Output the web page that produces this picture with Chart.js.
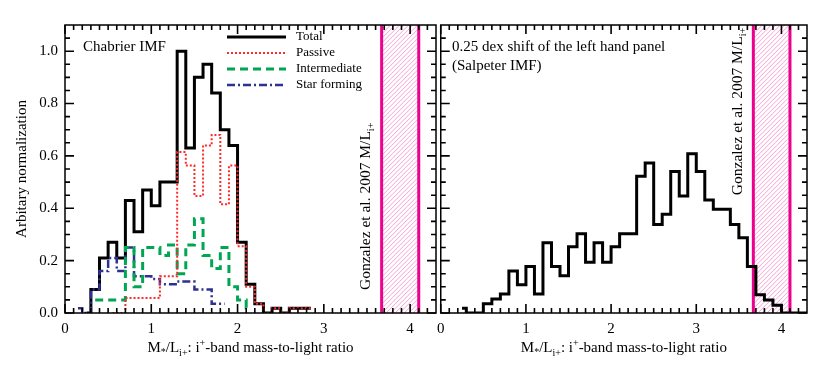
<!DOCTYPE html>
<html>
<head>
<meta charset="utf-8">
<script src="https://cdn.jsdelivr.net/npm/chart.js@4.4.1/dist/chart.umd.min.js"></script>
<style>
  body { margin: 0; background: #fff; width: 830px; height: 366px; position: relative; overflow: hidden; }
  canvas { position: absolute; top: 0; }
  #leftPanel { left: 0; }
  #rightPanel { left: 430px; }
</style>
</head>
<body>
<canvas id="leftPanel" width="440" height="366"></canvas>
<canvas id="rightPanel" width="400" height="366"></canvas>
<script>
// bin centres (M/L), left panel: Chabrier IMF
const leftCenters = [0.15, 0.25, 0.35, 0.45, 0.55, 0.65, 0.75, 0.85, 0.95, 1.05,
  1.15, 1.25, 1.35, 1.45, 1.55, 1.65, 1.75, 1.85, 1.95, 2.05,
  2.15, 2.25, 2.35, 2.45, 2.55, 2.65, 2.75, 2.85]
const totalValues = [null, 0, 0.09, 0.21, 0.27, 0.21, 0.43, 0.31, 0.47, 0.41,
  0.50, 0.50, 1.00, 0.63, 0.90, 0.95, 0.84, 0.70, 0.64, 0.27,
  0.11, 0.035, 0, 0.018, 0, 0.018, 0.018, 0.018]
const passiveValues = [null, null, null, null, 0, 0, 0.057, 0.057, 0.057, 0.057,
  0.14, 0.14, 0.615, 0.563, 0.447, 0.64, 0.68, 0.415, 0.563, 0.255,
  0.10, 0.035, 0, 0.018, 0, 0.018, 0.018, 0.018]
const intermediateValues = [null, null, 0.05, 0.05, 0.05, 0.05, 0.25, 0.10, 0.25, 0.25,
  0.22, 0.26, 0.15, 0.26, 0.36, 0.22, 0.17, 0.25, 0.10, 0.05,
  0.02, null, null, null, null, null, null, null]
const starFormingValues = [0.018, 0, 0.09, 0.16, 0.21, 0.16, 0.25, 0.14, 0.14, 0.13,
  0.11, 0.11, 0.12, 0.12, 0.09, 0.09, 0.035, 0.035, null, null,
  null, null, null, null, null, null, null, null]

// right panel: 0.25 dex shift (Salpeter IMF)
const rightCenters = [0.25, 0.35, 0.45, 0.55, 0.65, 0.75, 0.85, 0.95, 1.05, 1.15,
  1.25, 1.35, 1.45, 1.55, 1.65, 1.75, 1.85, 1.95, 2.05, 2.15,
  2.25, 2.35, 2.45, 2.55, 2.65, 2.75, 2.85, 2.95, 3.05, 3.15,
  3.25, 3.35, 3.45, 3.55, 3.65, 3.75, 3.85, 3.95, 4.05, 4.15,
  4.25, 4.35]
const shiftedValues = [0.018, 0, 0, 0.035, 0.053, 0.073, 0.16, 0.108, 0.178, 0.073,
  0.268, 0.178, 0.142, 0.253, 0.303, 0.194, 0.268, 0.194, 0.253, 0.303,
  0.303, 0.522, 0.573, 0.338, 0.377, 0.54, 0.447, 0.608, 0.54, 0.432,
  0.396, 0.396, 0.338, 0.287, 0.178, 0.07, 0.05, 0.03, 0, 0,
  0, 0]

// axis tick positions (major and minor), drawn inwards on every side
const xMinorTicks = [0, 0.1, 0.2, 0.3, 0.4, 0.5, 0.6, 0.7, 0.8, 0.9, 1, 1.1, 1.2, 1.3, 1.4,
  1.5, 1.6, 1.7, 1.8, 1.9, 2, 2.1, 2.2, 2.3, 2.4, 2.5, 2.6, 2.7, 2.8, 2.9, 3, 3.1, 3.2,
  3.3, 3.4, 3.5, 3.6, 3.7, 3.8, 3.9, 4, 4.1, 4.2]
const xMajorTicks = [0, 1, 2, 3, 4]
const yMinorTicks = [0, 0.05, 0.1, 0.15, 0.2, 0.25, 0.3, 0.35, 0.4, 0.45, 0.5, 0.55, 0.6,
  0.65, 0.7, 0.75, 0.8, 0.85, 0.9, 0.95, 1, 1.05]
const yMajorTicks = [0, 0.2, 0.4, 0.6, 0.8, 1.0]

const gonzalezBand = [3.67, 4.1]
const legendLabels = ['Total', 'Passive', 'Intermediate', 'Star forming']

const SERIF = "'Liberation Serif', 'Times New Roman', serif"
Chart.defaults.font.family = SERIF

const styles = {
  total: { color: '#000000', width: 3, dash: [] },
  passive: { color: '#ff2a2a', width: 2, dash: [2, 2] },
  intermediate: { color: '#00a651', width: 3, dash: [8, 5] },
  star: { color: '#2e3192', width: 2.5, dash: [8, 3, 2, 3] }
}

function pts(xs, ys) {
  return xs.map((x, i) => ({ x: x, y: ys[i] }))
}

function ds(label, xs, ys, st, order) {
  return {
    label: label,
    data: pts(xs, ys),
    borderColor: st.color,
    borderWidth: st.width,
    borderDash: st.dash,
    stepped: 'middle',
    pointRadius: 0,
    fill: false,
    order: order
  }
}

function line(ctx, x1, y1, x2, y2) {
  ctx.beginPath(); ctx.moveTo(x1, y1); ctx.lineTo(x2, y2); ctx.stroke()
}

// text made of pieces with sub/superscripts
function richText(ctx, parts, x, y, align) {
  let w = 0
  parts.forEach(p => { ctx.font = (p.s || 15) + 'px ' + SERIF; w += ctx.measureText(p.t).width })
  let cx = align === 'center' ? x - w / 2 : x
  ctx.textAlign = 'left'
  ctx.textBaseline = 'alphabetic'
  parts.forEach(p => {
    ctx.font = (p.s || 15) + 'px ' + SERIF
    ctx.fillText(p.t, cx, y + (p.dy || 0))
    cx += ctx.measureText(p.t).width
  })
}

const xTitle = [
  { t: 'M' }, { t: '*', s: 10, dy: 3 }, { t: '/L' }, { t: 'i+', s: 10, dy: 4 },
  { t: ': i' }, { t: '+', s: 10, dy: -6 }, { t: '-band mass-to-light ratio' }
]

function drawTicks(chart) {
  const ctx = chart.ctx
  const a = chart.chartArea
  const xs = chart.scales.x, ys = chart.scales.y
  ctx.save()
  ctx.setLineDash([])
  ctx.strokeStyle = '#000000'
  ctx.lineWidth = 1.6
  ctx.lineCap = 'butt'
  ctx.beginPath()
  xMinorTicks.forEach(v => {
    const px = xs.getPixelForValue(v)
    const len = xMajorTicks.includes(v) ? 9 : 5
    ctx.moveTo(px, a.bottom); ctx.lineTo(px, a.bottom - len)
    ctx.moveTo(px, a.top); ctx.lineTo(px, a.top + len)
  })
  yMinorTicks.forEach(v => {
    const py = ys.getPixelForValue(v)
    const len = yMajorTicks.includes(v) ? 9 : 5
    ctx.moveTo(a.left, py); ctx.lineTo(a.left + len, py)
    ctx.moveTo(a.right, py); ctx.lineTo(a.right - len, py)
  })
  ctx.stroke()
  ctx.lineWidth = 1.5
  ctx.strokeRect(a.left, a.top, a.right - a.left, a.bottom - a.top)
  ctx.restore()
}

function decor(extra) {
  return {
    id: 'decor',
    beforeDatasetsDraw(chart) {
      const ctx = chart.ctx
      const { top, bottom } = chart.chartArea
      const xs = chart.scales.x
      const x1 = xs.getPixelForValue(gonzalezBand[0])
      const x2 = xs.getPixelForValue(gonzalezBand[1])
      ctx.save()
      ctx.beginPath(); ctx.rect(x1, top, x2 - x1, bottom - top); ctx.clip()
      ctx.strokeStyle = '#f27ac0'
      ctx.lineWidth = 0.7
      const h = bottom - top
      for (let d = -h; d < x2 - x1 + 5; d += 4.5) line(ctx, x1 + d, bottom, x1 + d + h, top)
      ctx.restore()
      ctx.save()
      ctx.strokeStyle = '#ec008c'
      ctx.lineWidth = 3
      line(ctx, x1, top, x1, bottom)
      line(ctx, x2, top, x2, bottom)
      ctx.restore()
    },
    afterDatasetsDraw(chart) {
      drawTicks(chart)
    },
    afterDraw(chart) {
      const ctx = chart.ctx
      const { left, right, top, bottom } = chart.chartArea
      const xs = chart.scales.x, ys = chart.scales.y
      ctx.save()
      ctx.fillStyle = '#000'
      // vertical Gonzalez label
      ctx.translate(xs.getPixelForValue(3.48), ys.getPixelForValue(extra.gy))
      ctx.rotate(-Math.PI / 2)
      richText(ctx, [{ t: 'Gonzalez et al. 2007 M/L', s: 15.5 }, { t: 'i+', s: 10, dy: 4 }], 0, 5, 'left')
      ctx.restore()

      ctx.save()
      ctx.fillStyle = '#000'
      richText(ctx, xTitle, (left + right) / 2, 352, 'center')
      ctx.font = '15px ' + SERIF
      ctx.textAlign = 'left'
      ctx.textBaseline = 'middle'
      extra.labels.forEach(l => ctx.fillText(l.t, l.x, l.y))
      if (extra.legend) {
        const sts = [styles.total, styles.passive, styles.intermediate, styles.star]
        legendLabels.forEach((lab, i) => {
          const y = 37 + i * 16
          ctx.strokeStyle = sts[i].color
          ctx.lineWidth = sts[i].width
          ctx.setLineDash(sts[i].dash)
          line(ctx, 227, y, 286, y)
          ctx.setLineDash([])
          ctx.font = '13px ' + SERIF
          ctx.fillText(lab, 296, y)
        })
        ctx.save()
        ctx.translate(22, (top + bottom) / 2)
        ctx.rotate(-Math.PI / 2)
        ctx.font = '15px ' + SERIF
        ctx.textAlign = 'center'
        ctx.fillText('Arbitary normalization', 0, 0)
        ctx.restore()
      }
      ctx.restore()
    }
  }
}

function scales(showY, yWidth) {
  return {
    x: {
      type: 'linear', min: 0, max: 4.3,
      grid: { display: false, drawTicks: false }, border: { display: false },
      ticks: { stepSize: 1, includeBounds: false, padding: 7, color: '#000', font: { size: 15 }, maxRotation: 0 },
      afterFit(s) { s.height = 53 }
    },
    y: {
      type: 'linear', min: 0, max: 1.1,
      grid: { display: false, drawTicks: false }, border: { display: false },
      ticks: {
        display: showY, stepSize: 0.2, includeBounds: false, padding: 7, color: '#000', font: { size: 15 },
        callback: v => v.toFixed(1)
      },
      afterFit(s) { s.width = yWidth }
    }
  }
}

const common = {
  responsive: false,
  animation: false,
  events: [],
  devicePixelRatio: 1,
  plugins: { legend: { display: false }, tooltip: { enabled: false } }
}

new Chart(document.getElementById('leftPanel'), {
  type: 'line',
  data: {
    datasets: [
      ds('Total', leftCenters, totalValues, styles.total, 3),
      ds('Passive', leftCenters, passiveValues, styles.passive, 0),
      ds('Intermediate', leftCenters, intermediateValues, styles.intermediate, 1),
      ds('Star forming', leftCenters, starFormingValues, styles.star, 2)
    ]
  },
  options: Object.assign({}, common, {
    layout: { padding: { left: 0, right: 4, top: 25, bottom: 0 } },
    scales: scales(true, 65)
  }),
  plugins: [decor({ gy: 0.088, legend: true, labels: [{ t: 'Chabrier IMF', x: 83, y: 47 }] })]
})

new Chart(document.getElementById('rightPanel'), {
  type: 'line',
  data: {
    datasets: [ds('Total', rightCenters, shiftedValues, styles.total, 0)]
  },
  options: Object.assign({}, common, {
    layout: { padding: { left: 6, right: 23, top: 25, bottom: 0 } },
    scales: scales(false, 0)
  }),
  plugins: [decor({
    gy: 0.45, legend: false,
    labels: [
      { t: '0.25 dex shift of the left hand panel', x: 22, y: 47 },
      { t: '(Salpeter IMF)', x: 22, y: 66 }
    ]
  })]
})
</script>
</body>
</html>
